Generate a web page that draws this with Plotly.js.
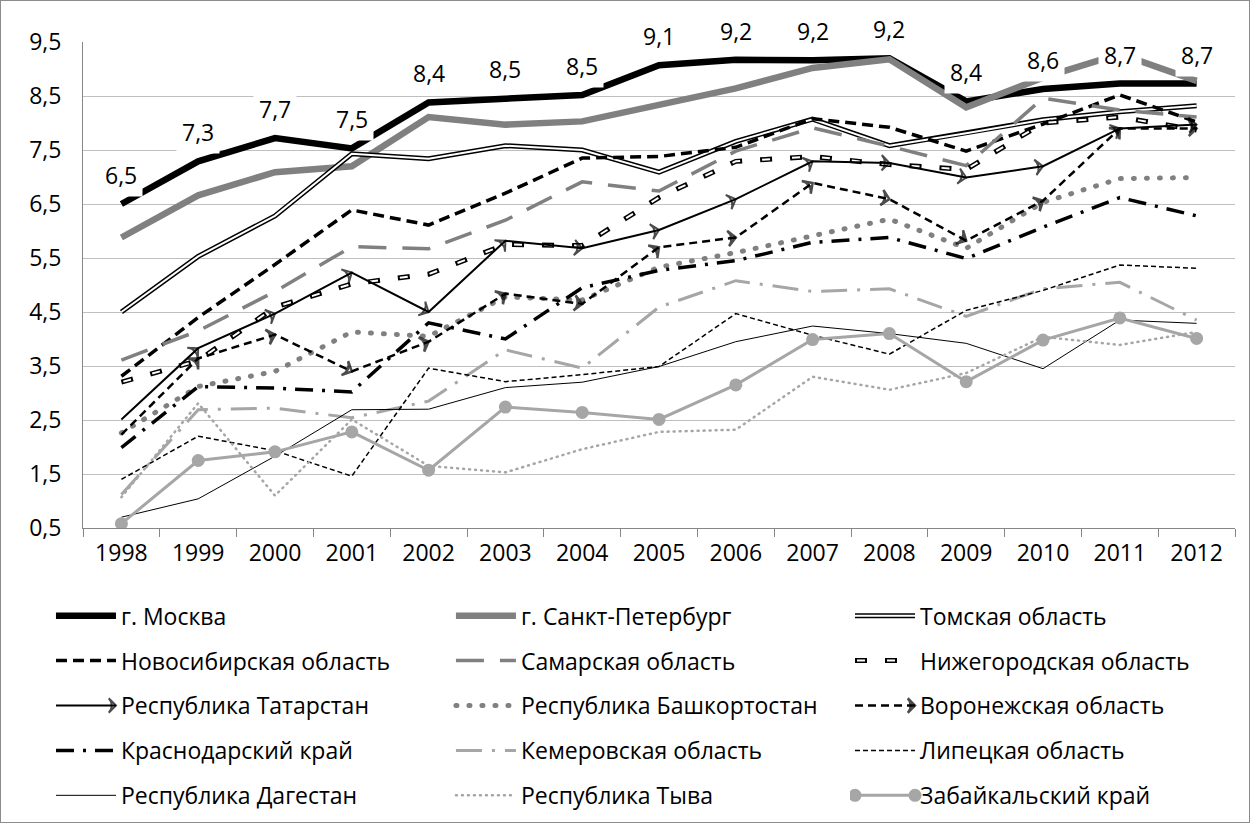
<!DOCTYPE html>
<html>
<head>
<meta charset="utf-8">
<script src="https://cdn.plot.ly/plotly-3.0.1.min.js"></script>
<style>
html,body{margin:0;padding:0;background:#fff;}
#wrap{position:relative;width:1250px;height:823px;}
#frame{position:absolute;left:0;top:0;width:1250px;height:823px;box-sizing:border-box;border:1px solid #8c8c8c;pointer-events:none;}
</style>
</head>
<body>
<div id="wrap"><div id="chart"></div><div id="frame"></div></div>
<script>
var years = ["1998","1999","2000","2001","2002","2003","2004","2005","2006","2007","2008","2009","2010","2011","2012"];
var yTicks = [0.5,1.5,2.5,3.5,4.5,5.5,6.5,7.5,8.5,9.5];

var moscow  = [6.5,7.29,7.72,7.53,8.38,8.46,8.52,9.07,9.17,9.16,9.2,8.4,8.63,8.73,8.73];
var spb     = [5.88,6.66,7.09,7.2,8.11,7.97,8.03,8.34,8.64,9.02,9.18,8.29,8.84,9.28,8.78];
var tomsk   = [4.5,5.53,6.28,7.43,7.34,7.58,7.5,7.09,7.66,8.07,7.58,7.81,8.06,8.21,8.32];
var novosib = [3.31,4.4,5.38,6.39,6.11,6.7,7.35,7.38,7.55,8.08,7.92,7.48,7.98,8.52,8.02];
var samara  = [3.61,4.15,4.88,5.71,5.67,6.2,6.91,6.74,7.48,7.91,7.57,7.21,8.46,8.24,8.11];
var nizhny  = [3.2,3.6,4.59,5.02,5.2,5.75,5.73,6.62,7.29,7.38,7.23,7.14,8.0,8.11,7.87];
var tatar   = [2.51,3.83,4.47,5.23,4.5,5.82,5.68,6.02,6.59,7.29,7.26,6.99,7.2,7.9,7.97];
var bashk   = [2.26,3.12,3.4,4.13,4.05,4.78,4.72,5.33,5.6,5.92,6.22,5.68,6.53,6.97,6.99];
var voron   = [2.23,3.64,4.08,3.4,3.95,4.84,4.65,5.7,5.88,6.89,6.59,5.82,6.56,7.9,7.9];
var krasn   = [1.99,3.12,3.09,3.02,4.3,4.0,4.95,5.27,5.45,5.79,5.88,5.49,6.07,6.62,6.28];
var kemer   = [1.12,2.69,2.72,2.54,2.85,3.8,3.46,4.59,5.08,4.88,4.93,4.42,4.93,5.05,4.35];
var lipet   = [1.4,2.2,1.93,1.46,3.46,3.21,3.34,3.49,4.47,4.07,3.72,4.53,4.9,5.37,5.31];
var dagest  = [0.7,1.04,1.83,2.69,2.7,3.1,3.2,3.49,3.95,4.24,4.1,3.92,3.45,4.35,4.29];
var tyva    = [1.07,2.81,1.1,2.51,1.65,1.53,1.96,2.28,2.32,3.3,3.06,3.37,4.04,3.89,4.13];
var zabaik  = [0.58,1.75,1.91,2.28,1.57,2.74,2.64,2.51,3.15,3.99,4.1,3.21,3.98,4.39,4.01];

var names = ["г. Москва","г. Санкт-Петербург","Томская область",
  "Новосибирская область","Самарская область","Нижегородская область",
  "Республика Татарстан","Республика Башкортостан","Воронежская область",
  "Краснодарский край","Кемеровская область","Липецкая область",
  "Республика Дагестан","Республика Тыва","Забайкальский край"];

var FONT = "Open Sans, sans-serif";
var G1 = "#808080", G2 = "#a6a6a6";

function leg(i){ var n = i % 3; return n === 0 ? "legend" : "legend" + (n+1); }
function arrowSizes(){ return years.map(function(_,i){ return i===0 ? 0 : 11; }); }

function tr(i, y, line, extra){
  var t = {x: years, y: y, type: "scatter", mode: "lines", name: names[i],
    legend: leg(i), legendgroup: "g" + i, line: line, hoverinfo: "skip"};
  if (extra) for (var k in extra) t[k] = extra[k];
  return t;
}

var data = [
  tr(0, moscow, {color:"#000", width:6.5}),
  tr(1, spb, {color:G1, width:6.5}),
  tr(2, tomsk, {color:"#000", width:5}),
  tr(2, tomsk, {color:"#fff", width:2}, {showlegend:false}),
  tr(3, novosib, {color:"#000", width:3.5, dash:"11px,6px"}),
  tr(4, samara, {color:G1, width:3.5, dash:"28px,16px"}),
  tr(5, nizhny, {color:"#000", width:5, dash:"12px,18px"}),
  tr(5, nizhny, {color:"#fff", width:2, dash:"0px,2px,8px,20px"}, {showlegend:false}),
  tr(6, tatar, {color:"#000", width:2, backoff:0}, {mode:"lines+markers",
      marker:{symbol:"arrow-wide-open", angleref:"previous", size:arrowSizes(), color:"#000", line:{color:"#000", width:2}}}),
  tr(7, bashk, {color:G1, width:5, dash:"1px,12px"}),
  tr(8, voron, {color:"#000", width:2.5, dash:"8px,5px", backoff:0}, {mode:"lines+markers",
      marker:{symbol:"arrow-wide-open", angleref:"previous", size:arrowSizes(), color:"#000", line:{color:"#000", width:2.5}}}),
  tr(9, krasn, {color:"#000", width:3.5, dash:"18px,9px,3px,9px"}),
  tr(10, kemer, {color:G2, width:3, dash:"26px,10px,3px,10px"}),
  tr(11, lipet, {color:"#000", width:1.5, dash:"5px,3px"}),
  tr(12, dagest, {color:"#000", width:1}),
  tr(13, tyva, {color:G2, width:2.5, dash:"1px,5px"}),
  tr(14, zabaik, {color:G2, width:3}, {mode:"lines+markers", marker:{symbol:"circle", size:13, color:G2}})
];

// category axis: annotation x given as the category index of each year
var annotations = years.map(function(yr, i){
  return {x: i, y: moscow[i], xref:"x", yref:"y", text: moscow[i].toFixed(1).replace(".", ","),
    showarrow:false, yshift:29, bgcolor:"#fff", borderpad:5,
    font:{family:FONT, size:23, color:"#000"}};
});

var colX = [-0.0278, 0.3194, 0.6658];
var layout = {
  width:1250, height:823,
  margin:{l:83, r:15, t:42, b:292},
  paper_bgcolor:"#fff", plot_bgcolor:"#fff",
  separators:",.",
  font:{family:FONT, size:22, color:"#000"},
  showlegend:true,
  xaxis:{type:"category", categoryorder:"array", categoryarray:years, range:[-0.5, years.length-0.5],
    tickson:"boundaries", ticks:"outside", ticklen:8, tickcolor:"#868686",
    showline:true, linecolor:"#868686", linewidth:1, showgrid:false, zeroline:false, tickangle:0,
    ticklabelstandoff:4,
    tickfont:{family:FONT, size:23, color:"#000"}, fixedrange:true},
  yaxis:{range:[0.5,9.5], tickvals:yTicks, tickformat:".1f", showgrid:true, gridcolor:"#bfbfbf", gridwidth:1,
    showline:true, linecolor:"#868686", zeroline:false, ticks:"", ticklabelstandoff:16,
    tickfont:{family:FONT, size:23, color:"#000"}, fixedrange:true},
  annotations: annotations
};
colX.forEach(function(x, n){
  layout[n===0 ? "legend" : "legend"+(n+1)] = {orientation:"v", x:x, xanchor:"left", y:-0.124, yanchor:"top",
    itemwidth:60, tracegroupgap:12, bgcolor:"rgba(0,0,0,0)", traceorder:"grouped",
    font:{family:FONT, size:23, color:"#000"}, itemclick:false, itemdoubleclick:false};
});

function itemsFor(gd, name){
  return Array.prototype.filter.call(gd.querySelectorAll("g.traces"), function(g){
    var t = g.querySelector("text.legendtext");
    var n1 = t ? t.textContent.trim() : "";
    var d = g.__data__, n2 = "";
    try { n2 = d[0].trace.name; } catch(e) { try { n2 = d.trace.name; } catch(e2) {} }
    return n1 === name || n2 === name;
  });
}
function getClone(g, key, src){
  var c = g.querySelector("." + key);
  if (!c) { c = src.cloneNode(true); c.setAttribute("class", key); g.appendChild(c); }
  return c;
}
function setAttr(el, k, v){ if (el.getAttribute(k) !== v) el.setAttribute(k, v); }

var busy = false;
function polish(gd){
  if (busy) return; busy = true;
  try {
    gd = gd || document.getElementById("chart");
    gd.querySelectorAll("path.js-line").forEach(function(p){
      var da = p.style.strokeDasharray || "";
      if (da.indexOf("1px") === 0 && p.style.strokeLinecap !== "round") p.style.strokeLinecap = "round";
    });
    // shift legends a few pixels lower (kept outside Plotly's margin computation)
    ["legend","legend2","legend3"].forEach(function(id){
      gd.querySelectorAll("g." + id).forEach(function(g){
        var tf = g.getAttribute("transform") || "";
        if (g.getAttribute("data-tf") === tf) return;
        var m = /translate\(\s*([-\d.e]+)[ ,]+([-\d.e]+)\s*\)/.exec(tf);
        if (!m) return;
        var nt = "translate(" + m[1] + "," + (parseFloat(m[2]) + 6) + ")";
        g.setAttribute("data-tf", nt); g.setAttribute("transform", nt);
      });
    });
    itemsFor(gd, names[2]).forEach(function(g){
      var l = g.querySelector("g.legendlines path"); if (!l) return;
      var c = getClone(g, "pol-inner", l);
      setAttr(c, "d", l.getAttribute("d"));
      c.style.stroke = "#fff"; c.style.strokeWidth = "2px"; c.style.strokeDasharray = "none";
    });
    itemsFor(gd, names[5]).forEach(function(g){
      var l = g.querySelector("g.legendlines path"); if (!l) return;
      var c = getClone(g, "pol-inner", l);
      setAttr(c, "d", l.getAttribute("d"));
      c.style.stroke = "#fff"; c.style.strokeWidth = "2px"; c.style.strokeDasharray = "0px,2px,8px,20px";
    });
    [names[6], names[8]].forEach(function(nm){
      itemsFor(gd, nm).forEach(function(g){
        var l = g.querySelector("g.legendlines path"); var m = g.querySelector("path.scatterpts");
        if (!l || !m) return;
        var bb = l.getBBox(); var endX = bb.x + bb.width;
        var tf = m.getAttribute("transform") || "";
        var nt = /translate\([^)]*\)/.test(tf) ? tf.replace(/translate\([^)]*\)/, "translate(" + endX + ",0)")
                                               : "translate(" + endX + ",0) " + tf;
        setAttr(m, "transform", nt);
      });
    });
    itemsFor(gd, names[14]).forEach(function(g){
      var l = g.querySelector("g.legendlines path"); var mz = g.querySelector("g.legendpoints path.scatterpts") || g.querySelector("path.scatterpts");
      if (!l || !mz) return;
      var bz = l.getBBox();
      var m1 = getClone(g, "pol-m1", mz), m2 = getClone(g, "pol-m2", mz);
      if (mz.style.opacity !== "0") mz.style.opacity = "0";
      m1.style.opacity = "1"; m2.style.opacity = "1";
      setAttr(m1, "transform", "translate(" + bz.x + ",0)");
      setAttr(m2, "transform", "translate(" + (bz.x + bz.width) + ",0)");
    });
  } catch (e) {}
  busy = false;
}

Plotly.newPlot("chart", data, layout, {staticPlot:true, displayModeBar:false}).then(function(gd){
  polish(gd);
  gd.on("plotly_afterplot", function(){ polish(gd); });
  var pending = false;
  new MutationObserver(function(){
    if (busy || pending) return; pending = true;
    requestAnimationFrame(function(){ pending = false; polish(gd); });
  }).observe(gd, {childList:true, subtree:true});
  [0, 50, 150, 300, 600, 1000].forEach(function(t){ setTimeout(function(){ polish(gd); }, t); });
});
</script>
</body>
</html>
